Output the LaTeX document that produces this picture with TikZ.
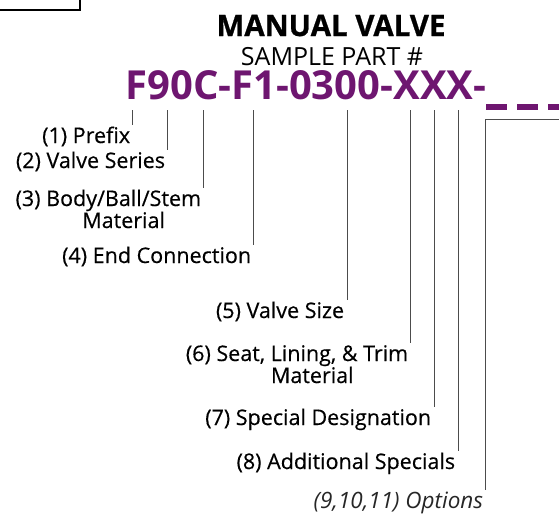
\documentclass[tikz,border=0pt]{standalone}
\usepackage{fontspec}
\setmainfont{Open Sans}
\newfontfamily\lblfont{Open Sans}[FakeBold=0.4]
\newfontfamily\headfont{Open Sans}[BoldFeatures={FakeBold=0.8}]
\definecolor{partpurple}{RGB}{110,22,112}
\begin{document}
\begin{tikzpicture}[x=1pt, y=-1pt, thick,
  lbl/.style = {anchor=base east, inner sep=1.5pt, align=center, font=\lblfont\fontsize{21.5}{22}\selectfont},
  lead/.style = {draw=black!70, line width=0.9pt}]
  \useasboundingbox (0,0) rectangle (559,517);
  \draw[line width=2pt] (-5,-5) rectangle (80,10);
  % heading
  \node[anchor=base, font=\headfont\bfseries\fontsize{29.5}{30}\selectfont] (title) at (331,36) {MANUAL VALVE};
  \node[anchor=base, font=\fontsize{25}{25}\selectfont] (sample) at (332,65) {SAMPLE PART \#};
  \node[anchor=base west, inner sep=0pt, text=partpurple, font=\bfseries\fontsize{40}{40}\selectfont] (pn) at (125,99) {F90C-F1-0300-XXX-};
  \draw[partpurple, line width=6pt, dash pattern=on 21pt off 10pt] (486,107) -- (575,107);
  % labels
  \node[lbl] (1) at (132,143) {(1) Prefix};
  \node[lbl] (2) at (167,168) {(2) Valve Series};
  \node[lbl] (3) at (203,228) {\llap{(3) }Body/Ball/Stem\\Material};
  \node[lbl] (4) at (253,263) {(4) End Connection};
  \node[lbl] (5) at (346,318) {(5) Valve Size};
  \node[lbl] (6) at (410,383) {\llap{(6) }Seat, Lining, \& Trim\\Material};
  \node[lbl] (7) at (433,425) {(7) Special Designation};
  \node[lbl] (8) at (457,469) {(8) Additional Specials};
  \node[lbl, font=\itshape\fontsize{22.5}{22}\selectfont, text=black!85] (9) at (485,508) {(9,10,11) Options};
  % leader tops
  \coordinate (1t) at (132,110);
  \coordinate (2t) at (167,110);
  \coordinate (3t) at (203,110);
  \coordinate (4t) at (253,110);
  \coordinate (5t) at (347,110);
  \coordinate (6t) at (410,110);
  \coordinate (7t) at (434,110);
  \coordinate (8t) at (458,110);
  \coordinate (9t) at (485,119);
  \coordinate (9r) at (575,119);
  \draw[lead] (1t) -- (1t |- 1.north east);
  \draw[lead] (2t) -- (2t |- 2.north east);
  \draw[lead] (3t) -- (3t |- 3.north east);
  \draw[lead] (4t) -- (4t |- 4.north east);
  \draw[lead] (5t) -- (5t |- 5.north east);
  \draw[lead] (6t) -- (6t |- 6.north east);
  \draw[lead] (7t) -- (7t |- 7.north east);
  \draw[lead] (8t) -- (8t |- 8.north east);
  \draw[lead] (9r) -- (9t) -- (9t |- 9.north east);
\end{tikzpicture}
\end{document}
